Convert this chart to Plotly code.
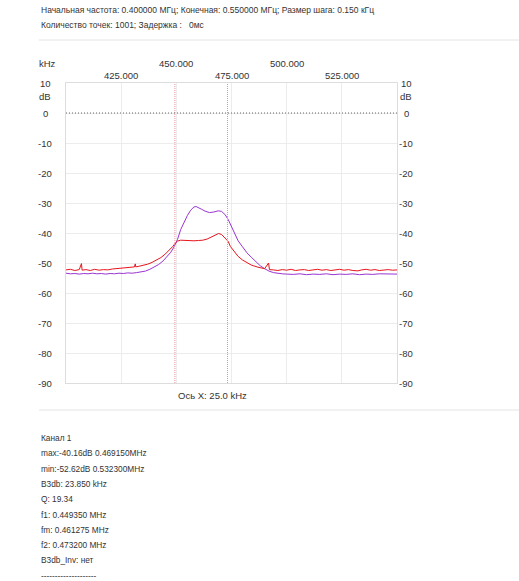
import plotly.graph_objects as go

# ------------------------------------------------------------
# Data
# ------------------------------------------------------------
RED_KHZ = [400, 402, 404, 406, 407, 407.3, 409, 411, 413, 415, 417, 419, 421, 423, 425,
           427, 429, 431, 431.4, 431.6, 433, 435, 437, 439, 441, 443, 445, 447, 448.5,
           449.5, 450.5, 452, 454, 456, 458, 460, 462, 464, 466, 467.5, 469.15, 470.5,
           472, 473.5, 474.5, 476, 478, 480, 482, 484, 487, 490, 491.8, 492.2, 494, 496,
           498, 500, 502, 504, 506, 508, 510, 512, 514, 516, 518, 520, 522, 524, 526,
           528, 530, 532.3, 534, 536, 538, 540, 542, 544, 546, 548, 550]
RED_DB = [-52.3, -52.1, -52.5, -52.2, -50.2, -52.4, -52.2, -52.5, -52.1, -52.4, -52.2,
          -52.3, -52.0, -51.9, -51.8, -51.7, -51.5, -51.3, -50.3, -51.3, -51.1, -50.8,
          -50.4, -49.8, -49.1, -48.2, -47.0, -45.7, -44.4, -43.4, -42.7, -42.4, -42.5,
          -42.4, -42.6, -42.5, -42.4, -42.0, -41.3, -40.6, -40.16, -40.5, -41.5, -42.8,
          -44.5, -46.0, -47.8, -49.0, -49.9, -50.7, -51.4, -51.9, -50.0, -52.2, -52.3,
          -52.5, -52.2, -52.4, -52.1, -52.5, -52.3, -52.2, -52.5, -52.3, -52.1, -52.4,
          -52.2, -52.5, -52.3, -52.1, -52.4, -52.2, -52.5, -52.62, -52.3, -52.1, -52.4,
          -52.2, -52.5, -52.3, -52.2, -52.4, -52.3]

PURPLE_KHZ = [400, 402, 404, 406, 408, 410, 412, 414, 416, 418, 420, 422, 424, 426, 428,
              430, 432, 434, 436, 438, 440, 442, 444, 446, 447.5, 449, 450.5, 452, 453.5,
              455, 456.5, 458, 459, 460, 461.5, 463, 465, 467, 469, 470.5, 472, 473.5,
              475, 476.5, 478, 480, 482, 484, 486, 488, 490, 492, 494, 496, 498, 500, 503,
              506, 509, 512, 515, 518, 521, 524, 527, 530, 533, 536, 539, 542, 545, 548, 550]
PURPLE_DB = [-53.4, -53.6, -53.5, -53.7, -53.5, -53.6, -53.4, -53.6, -53.5, -53.7, -53.5,
             -53.6, -53.4, -53.5, -53.3, -53.4, -53.2, -53.0, -52.7, -52.1, -51.4, -50.5,
             -49.3, -47.8, -46.4, -44.6, -42.2, -38.8, -36.3, -34.2, -32.4, -31.3, -31.2,
             -31.5, -32.1, -32.7, -33.2, -33.0, -32.6, -32.8, -33.8, -35.5, -37.8, -40.3,
             -42.6, -44.6, -46.6, -48.1, -49.6, -50.9, -51.9, -52.7, -53.2, -53.5, -53.6,
             -53.7, -53.8, -53.6, -53.9, -53.7, -53.8, -53.6, -53.9, -53.7, -53.8, -53.6,
             -53.9, -53.7, -53.8, -53.6, -53.7, -53.8, -53.7]

X_TICKS = [425, 450, 475, 500, 525]
X_TICK_TEXT = ['425.000', '450.000', '475.000', '500.000', '525.000']
Y_TICKS = [10, 0, -10, -20, -30, -40, -50, -60, -70, -80, -90]
MARKER_KHZ = [449.35, 473.2]   # f1 / f2
REF_LEVEL_DB = 0

HEADER_LINES = [
    'Начальная частота: 0.400000 МГц; Конечная: 0.550000 МГц; Размер шага: 0.150 кГц',
    'Количество точек: 1001; Задержка :   0мс',
]
INFO_LINES = [
    'Канал 1',
    'max:-40.16dB 0.469150MHz',
    'min:-52.62dB 0.532300MHz',
    'B3db: 23.850 kHz',
    'Q: 19.34',
    'f1: 0.449350 MHz',
    'fm: 0.461275 MHz',
    'f2: 0.473200 MHz',
    'B3db_Inv: нет',
    '--------------------',
]

# ------------------------------------------------------------
# layout in page pixels (body margin removed by post_script)
W, H = 519, 581
L, R, T, B = 66, 397, 83, 383
FONT = 'Liberation Sans, Arial, sans-serif'
TXT = '#333333'


def px(x):
    return (x - L) / (R - L)


def py(y):
    return (B - y) / (B - T)


def label(x, y, text, size=9.5, xref='paper', yref='paper', xanchor='center'):
    return dict(x=x, y=y, xref=xref, yref=yref, text=text, showarrow=False,
                xanchor=xanchor, yanchor='middle',
                font=dict(size=size, color=TXT, family=FONT))


fig = go.Figure()

fig.add_trace(go.Scatter(x=PURPLE_KHZ, y=PURPLE_DB, mode='lines',
                         line=dict(color='#9a34d2', width=1), showlegend=False))
fig.add_trace(go.Scatter(x=RED_KHZ, y=RED_DB, mode='lines',
                         line=dict(color='#e8141c', width=1), showlegend=False))

shapes = []
for f in MARKER_KHZ:
    shapes.append(dict(type='line', xref='x', yref='paper', x0=f, x1=f, y0=0, y1=1,
                       line=dict(color='#e8909e', width=1, dash='1px,1px')))
shapes.append(dict(type='line', xref='paper', yref='y', x0=0, x1=1,
                   y0=REF_LEVEL_DB, y1=REF_LEVEL_DB,
                   line=dict(color='#666666', width=1, dash='1px,2px')))
# separators
for yy in (40, 410):
    shapes.append(dict(type='line', xref='paper', yref='paper',
                       x0=px(39), x1=px(519), y0=py(yy), y1=py(yy),
                       line=dict(color='#e4e4e4', width=1)))

ann = []
for i, (t, lab) in enumerate(zip(X_TICKS, X_TICK_TEXT)):
    ann.append(label(t, py(63 if i % 2 else 75), lab, xref='x'))
ann.append(label(px(47), py(63), 'kHz'))
for v in Y_TICKS:
    for xx in (45, 406):
        ann.append(label(px(xx), v, str(v), yref='y'))
for xx in (45, 406):
    ann.append(label(px(xx), py(97), 'dB'))
ann.append(label(px(212), py(395), 'Ось X: 25.0 kHz'))
for i, line in enumerate(HEADER_LINES):
    ann.append(label(px(39), py(10 + 15 * i), line, size=8.5, xanchor='left'))
for i, line in enumerate(INFO_LINES):
    ann.append(label(px(39), py(438 + 15.3 * i), line, size=8.3, xanchor='left'))

fig.update_layout(
    width=W, height=H, autosize=False,
    margin=dict(l=L, r=W - R, t=T, b=H - B, pad=0),
    plot_bgcolor='white', paper_bgcolor='white',
    shapes=shapes, annotations=ann,
    xaxis=dict(range=[400, 550], dtick=25, tick0=400, showticklabels=False,
               gridcolor='#ececec', zeroline=False, showline=True,
               linecolor='#dddddd', mirror=True),
    yaxis=dict(range=[-90, 10], dtick=10, tick0=0, showticklabels=False,
               gridcolor='#ececec', zeroline=False, showline=True,
               linecolor='#dddddd', mirror=True),
)

fig.write_html("out.html", config={'displayModeBar': False},
               post_script="document.body.style.margin='0';document.body.style.overflow='hidden';")
